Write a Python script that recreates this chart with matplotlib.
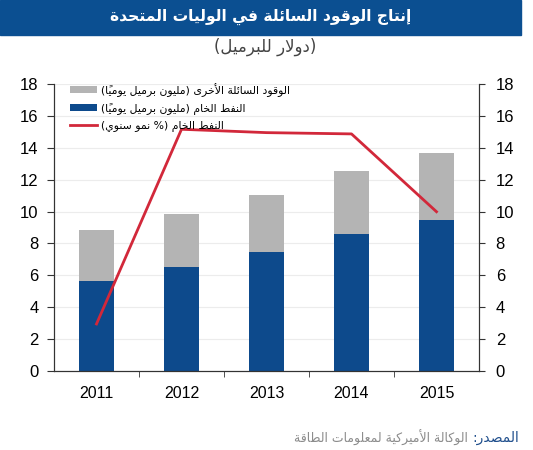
import numpy as np
import matplotlib.pyplot as plt
from matplotlib.patches import Rectangle

# data
years = ["2011", "2012", "2013", "2014", "2015"]
crude = [5.66, 6.52, 7.49, 8.59, 9.45]           # million b/d
total = [8.85, 9.85, 11.06, 12.57, 13.68]        # crude + other liquids
crude_growth = [2.95, 15.16, 14.95, 14.87, 9.99]  # % yoy (right axis)
other = [t - c for t, c in zip(total, crude)]

title = "إنتاج الوقود السائلة في الوليات المتحدة"
subtitle = "(دولار للبرميل)"
lbl_other = "الوقود السائلة الأخرى (مليون برميل يومياً)"
lbl_crude = "النفط الخام (مليون برميل يومياً)"
lbl_growth = "النفط الخام (% نمو سنوي)"
src_head = "المصدر:"
src_body = "الوكالة الأميركية لمعلومات الطاقة"

BLUE = "#0d4a8c"
GREY = "#b4b4b4"
RED = "#d2283a"

# --- minimal arabic shaping (matplotlib has no bidi / shaping) ---
# char: (isolated, final, initial, medial)
FORMS = {
    "\u0621": (0xFE80, None, None, None),
    "\u0622": (0xFE81, 0xFE82, None, None),
    "\u0623": (0xFE83, 0xFE84, None, None),
    "\u0624": (0xFE85, 0xFE86, None, None),
    "\u0625": (0xFE87, 0xFE88, None, None),
    "\u0626": (0xFE89, 0xFE8A, 0xFE8B, 0xFE8C),
    "\u0627": (0xFE8D, 0xFE8E, None, None),
    "\u0628": (0xFE8F, 0xFE90, 0xFE91, 0xFE92),
    "\u0629": (0xFE93, 0xFE94, None, None),
    "\u062A": (0xFE95, 0xFE96, 0xFE97, 0xFE98),
    "\u062B": (0xFE99, 0xFE9A, 0xFE9B, 0xFE9C),
    "\u062C": (0xFE9D, 0xFE9E, 0xFE9F, 0xFEA0),
    "\u062D": (0xFEA1, 0xFEA2, 0xFEA3, 0xFEA4),
    "\u062E": (0xFEA5, 0xFEA6, 0xFEA7, 0xFEA8),
    "\u062F": (0xFEA9, 0xFEAA, None, None),
    "\u0630": (0xFEAB, 0xFEAC, None, None),
    "\u0631": (0xFEAD, 0xFEAE, None, None),
    "\u0632": (0xFEAF, 0xFEB0, None, None),
    "\u0633": (0xFEB1, 0xFEB2, 0xFEB3, 0xFEB4),
    "\u0634": (0xFEB5, 0xFEB6, 0xFEB7, 0xFEB8),
    "\u0635": (0xFEB9, 0xFEBA, 0xFEBB, 0xFEBC),
    "\u0636": (0xFEBD, 0xFEBE, 0xFEBF, 0xFEC0),
    "\u0637": (0xFEC1, 0xFEC2, 0xFEC3, 0xFEC4),
    "\u0638": (0xFEC5, 0xFEC6, 0xFEC7, 0xFEC8),
    "\u0639": (0xFEC9, 0xFECA, 0xFECB, 0xFECC),
    "\u063A": (0xFECD, 0xFECE, 0xFECF, 0xFED0),
    "\u0641": (0xFED1, 0xFED2, 0xFED3, 0xFED4),
    "\u0642": (0xFED5, 0xFED6, 0xFED7, 0xFED8),
    "\u0643": (0xFED9, 0xFEDA, 0xFEDB, 0xFEDC),
    "\u0644": (0xFEDD, 0xFEDE, 0xFEDF, 0xFEE0),
    "\u0645": (0xFEE1, 0xFEE2, 0xFEE3, 0xFEE4),
    "\u0646": (0xFEE5, 0xFEE6, 0xFEE7, 0xFEE8),
    "\u0647": (0xFEE9, 0xFEEA, 0xFEEB, 0xFEEC),
    "\u0648": (0xFEED, 0xFEEE, None, None),
    "\u0649": (0xFEEF, 0xFEF0, None, None),
    "\u064A": (0xFEF1, 0xFEF2, 0xFEF3, 0xFEF4),
}
LAMALEF = {"\u0622": (0xFEF5, 0xFEF6), "\u0623": (0xFEF7, 0xFEF8),
           "\u0625": (0xFEF9, 0xFEFA), "\u0627": (0xFEFB, 0xFEFC)}
MARKS = set("\u064B\u064C\u064D\u064E\u064F\u0650\u0651\u0652")


def ar(s):
    chars = list(s)
    n = len(chars)

    def neighbour(i, step):
        j = i + step
        while 0 <= j < n and chars[j] in MARKS:
            j += step
        return chars[j] if 0 <= j < n else None

    def dual(c):
        return c in FORMS and FORMS[c][2] is not None

    out = []
    i = 0
    while i < n:
        c = chars[i]
        if c not in FORMS:
            out.append(c)
            i += 1
            continue
        prev = neighbour(i, -1)
        nxt = neighbour(i, 1)
        jp = dual(prev)
        if c == "\u0644" and nxt in LAMALEF:
            out.append(chr(LAMALEF[nxt][1 if jp else 0]))
            i += 1
            while chars[i] != nxt:
                i += 1
            i += 1
            continue
        jn = dual(c) and nxt in FORMS
        f = FORMS[c]
        if jp and jn:
            g = f[3]
        elif jp:
            g = f[1]
        elif jn:
            g = f[2]
        else:
            g = f[0]
        out.append(chr(g))
        i += 1
    # visual order: reverse clusters, mirror brackets
    clusters = []
    for c in out:
        if c in MARKS and clusters:
            clusters[-1] += c
        else:
            clusters.append(c)
    mirror = {"(": ")", ")": "("}
    return "".join(mirror.get(c, c) for c in reversed(clusters))


AR_FONT = ["DejaVu Sans"]
NUM_FONT = ["Liberation Sans", "DejaVu Sans"]

fig = plt.figure(figsize=(5.33, 4.5), dpi=100)

# title bar
fig.patches.append(Rectangle((0, 1 - 35 / 450), 521 / 533, 35 / 450,
                             transform=fig.transFigure, color="#0b4f91", zorder=0))
fig.text(261 / 533, 1 - 17 / 450, ar(title), color="white", fontsize=11.2,
         fontweight="bold", family=AR_FONT, ha="center", va="center")
fig.text(265 / 533, 1 - 47 / 450, ar(subtitle), color="#444444", fontsize=12,
         family=AR_FONT, ha="center", va="center")

ax = fig.add_axes([54 / 533, 79 / 450, 425 / 533, 287 / 450])
x = np.arange(len(years))
ax.bar(x, crude, width=0.41, color=BLUE, label=ar(lbl_crude), zorder=2)
ax.bar(x, other, bottom=crude, width=0.41, color=GREY, label=ar(lbl_other), zorder=2)
ax.set_xlim(-0.5, len(years) - 0.5)
ax.set_ylim(0, 18)
ax.set_yticks(np.arange(0, 19, 2))
ax.yaxis.grid(True, color="#ececec", lw=0.8, zorder=0)
ax.set_axisbelow(True)
ax.set_xticks(x)
ax.set_xticklabels(years, family=NUM_FONT, fontsize=11.5)
ax.set_xticks(np.arange(0.5, len(years) - 1, 1), minor=True)
ax.tick_params(axis="x", which="major", length=0, pad=11)
ax.tick_params(axis="x", which="minor", length=4, direction="out", color="#333333")
ax.tick_params(axis="y", length=5, direction="out", color="#333333", pad=6, labelsize=12)
for lab in ax.get_yticklabels():
    lab.set_family(NUM_FONT)
for s in ["top"]:
    ax.spines[s].set_visible(False)
for s in ["left", "right", "bottom"]:
    ax.spines[s].set_color("#333333")

ax2 = ax.twinx()
ax2.plot(x, crude_growth, color=RED, lw=2, label=ar(lbl_growth), zorder=3)
ax2.set_ylim(0, 18)
ax2.set_yticks(np.arange(0, 19, 2))
ax2.tick_params(axis="y", length=4, direction="out", color="#333333", pad=8, labelsize=12)
for lab in ax2.get_yticklabels():
    lab.set_family(NUM_FONT)
ax2.spines["top"].set_visible(False)
for s in ["left", "right", "bottom"]:
    ax2.spines[s].set_color("#333333")

h1, l1 = ax.get_legend_handles_labels()
h2, l2 = ax2.get_legend_handles_labels()
leg = ax2.legend([h1[1], h1[0], h2[0]], [l1[1], l1[0], l2[0]],
                 loc="upper left", bbox_to_anchor=(0.028, 1.02), frameon=False,
                 prop={"family": AR_FONT, "size": 7.8}, handlelength=2.5,
                 handleheight=0.6, handletextpad=0.3, labelspacing=0.55,
                 borderaxespad=0)

# source line
src = fig.text(519 / 533, 1 - 438 / 450, ar(src_head), color="#1f4e8c", fontsize=10,
               family=AR_FONT, ha="right", va="center")
ax.annotate(ar(src_body), xy=(0, 0.5), xycoords=src, xytext=(-3, 0),
            textcoords="offset points", color="#8c8c8c", fontsize=9,
            family=AR_FONT, ha="right", va="center", annotation_clip=False)

fig.savefig("out.png", dpi=100)
